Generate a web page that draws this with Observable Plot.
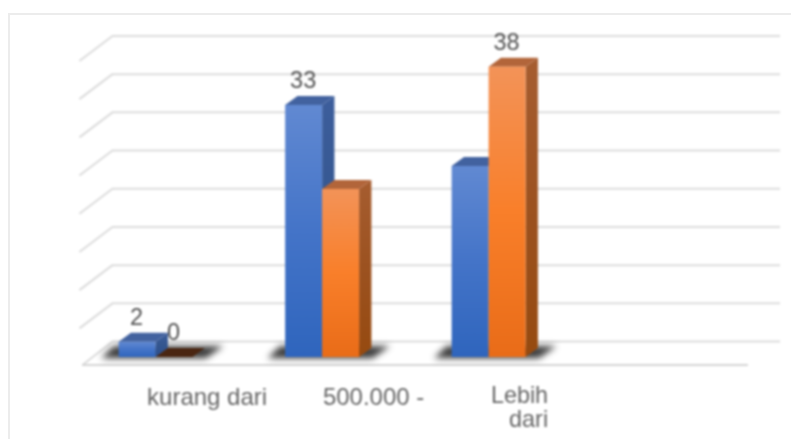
<!DOCTYPE html>
<html><head><meta charset="utf-8">
<script src="https://cdn.jsdelivr.net/npm/d3@7"></script>
<script src="https://cdn.jsdelivr.net/npm/@observablehq/plot@0.6"></script>
<style>
html,body{margin:0;padding:0;background:#fff;overflow:hidden}
#chart{position:absolute;left:0;top:0;width:791px;height:439px}
#chart svg{display:block;filter:blur(0.8px)}
#frame{position:absolute;left:8px;top:13px;right:0;bottom:0;border-left:2px solid #ececec;border-top:2px solid #ececec;pointer-events:none}
</style></head><body><div id="chart"></div><div id="frame"></div>
<script>
const categories = ["kurang dari", "500.000 -", "Lebih\ndari"];
const blueValues = [2, 33, 25];
const orangeValues = [0, 22, 38];
const blueLabels = ["2", "33", null];
const orangeLabels = ["0", null, "38"];
const gridTicks = [0, 5, 10, 15, 20, 25, 30, 35, 40];

// projection constants, in scale units
const barW = 0.222, depthX = 0.074, depthY = 1.18;
const backX = -0.262, backY = 2.09, wallX = -0.4605, wallEnd = 3.75, floorEnd = 3.557;
const wallDrop = 3.27, floorFrontX = -0.442, floorFrontY = -0.98;

const rows = (vals, labels, off) => vals.map((v, i) => ({i, v, x0: i + off * barW, label: labels[i]}));
const blue = rows(blueValues, blueLabels, -1);
const orange = rows(orangeValues, orangeLabels, 0);

function sidePts(d){return [
  {id:d.i, x:d.x0+barW, y1:0, y2:d.v},
  {id:d.i, x:d.x0+barW+depthX, y1:depthY, y2:d.v+depthY}];}
function topPts(d){return [
  {id:d.i, y:d.v, x1:d.x0, x2:d.x0+barW},
  {id:d.i, y:d.v+depthY, x1:d.x0+depthX, x2:d.x0+barW+depthX}];}
function bar3d(data, name, topColor){
  const solid = data.filter(d => d.v > 0);
  return [
    Plot.areaY(solid.flatMap(sidePts), {x:"x", y1:"y1", y2:"y2", z:"id", fill:`url(#${name}Side)`}),
    Plot.areaX(solid.flatMap(topPts), {y:"y", x1:"x1", x2:"x2", z:"id", fill:topColor}),
    Plot.rect(solid, {x1:"x0", x2:d=>d.x0+barW, y1:0, y2:"v", fill:`url(#${name}Front)`})
  ];
}
const flat = orange.filter(d => d.v === 0).flatMap(topPts);
const shadowPts = categories.flatMap((c, i) => [
  {id:i, y:-0.15, x1:i-barW-0.105, x2:i+barW+0.08},
  {id:i, y:1.45, x1:i-barW-0.03, x2:i+barW+0.185}]);

const grad = (id, a, m, b) => `<linearGradient id="${id}" x1="0" y1="0" x2="0" y2="1"><stop offset="0" stop-color="${a}"/><stop offset="0.5" stop-color="${m}"/><stop offset="1" stop-color="${b}"/></linearGradient>`;
const defs = () => {
  const g = document.createElementNS("http://www.w3.org/2000/svg","g");
  g.innerHTML = "<defs>"+grad("blueFront","#6189d2","#4474c8","#2f65bd")+grad("orangeFront","#f39358","#f97f2a","#e96c18")
   +grad("blueSide","#3d5e9c","#34568f","#2b4f8e")+grad("orangeSide","#a65d30","#9c5220","#964a10")+"</defs>";
  return g;
};
const gridColor = "#dcdcdc";

const plot = Plot.plot({
  width:791, height:439, margin:0,
  x:{domain:[-0.9345,3.816], range:[0,791], axis:null},
  y:{domain:[-10.73,46.73], range:[439,0], axis:null},
  style:{background:"#fff", fontFamily:"'Liberation Sans',Arial,sans-serif"},
  marks:[
    defs,
    Plot.ruleY(gridTicks, {y:d=>d+backY, x1:backX, x2:wallEnd, stroke:gridColor, strokeWidth:2}),
    Plot.link(gridTicks.filter(d=>d>0), {x1:wallX, y1:d=>d+backY-wallDrop, x2:backX, y2:d=>d+backY, stroke:gridColor, strokeWidth:2}),
    Plot.link([0], {x1:floorFrontX, y1:floorFrontY, x2:backX, y2:backY, stroke:gridColor, strokeWidth:2}),
    Plot.ruleY([floorFrontY], {x1:floorFrontX, x2:floorEnd, stroke:"#d4d4d4", strokeWidth:2}),
    Plot.areaX(shadowPts, {y:"y", x1:"x1", x2:"x2", z:"id", fill:"#1a1a1a", fillOpacity:0.85, imageFilter:"blur(3px)"}),
    ...bar3d(blue, "blue", "#42629f"),
    ...bar3d(orange, "orange", "#b2653a"),
    Plot.areaX(flat, {y:"y", x1:"x1", x2:"x2", z:"id", fill:"#4a2612"}),
    Plot.text(blue.concat(orange).filter(d=>d.label), {x:d=>d.x0+barW/2, y:"v", text:"label", dy:-25, dx:-1, fontSize:23.5, fill:"#505050"}),
    Plot.text(categories.slice(0,2), {x:(d,i)=>i, y:0, text:d=>d, dy:40, dx:51, fontSize:24, fill:"#666"}),
    Plot.text(categories.slice(2), {x:2, y:0, text:d=>d, dy:29, dx:59, lineAnchor:"top", lineHeight:1, textAnchor:"end", fontSize:23.4, fill:"#666"})
  ]
});
document.getElementById("chart").appendChild(plot);
</script></body></html>
